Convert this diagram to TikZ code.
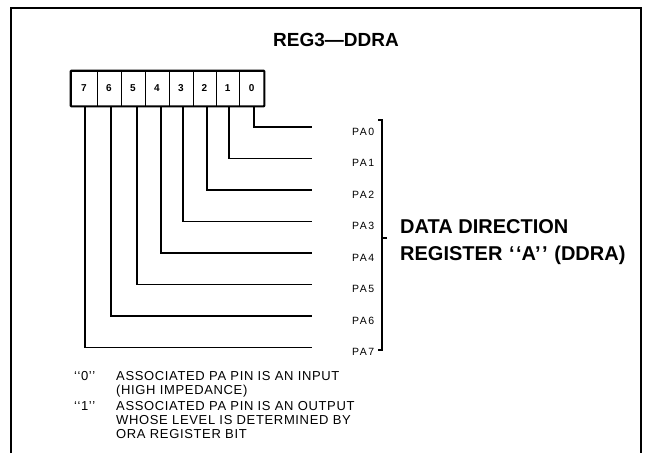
\documentclass[tikz,border=0pt]{standalone}
\usepackage{fontspec}
\setmainfont{Liberation Sans}
\begin{document}
\begin{tikzpicture}[x=1pt,y=-1pt,
  cell/.style={draw,line width=0.9pt,minimum height=35pt,inner sep=0pt,font=\fontsize{10}{10}\selectfont\bfseries},
  wire/.style={line width=1.1pt},
  palbl/.style={anchor=base west,inner sep=0pt,font=\fontsize{10.5}{10.5}\selectfont\addfontfeatures{LetterSpace=14}},
  big/.style={anchor=base west,inner sep=0pt,font=\fontsize{20}{20}\selectfont\bfseries},
  note/.style={anchor=base west,inner sep=0pt,font=\fontsize{13}{13}\selectfont\addfontfeatures{LetterSpace=5}}]
\useasboundingbox (0,0) rectangle (655,453);
% frame
\draw[line width=1.4pt] (11,453) -- (11,8) -- (641,8) -- (641,453);
% title
\node[anchor=base,inner sep=0pt,font=\fontsize{19}{19}\selectfont\bfseries] (title) at (336,46) {REG3—DDRA};
% register cells: bit / left / right / wire x
\foreach \k/\l/\r/\wx in {7/71/97/85, 6/97/121/111, 5/121/145/137, 4/145/169/161, 3/169/193/183, 2/193/216/207, 1/216/239.5/229, 0/239.5/264/254} {
  \node[cell,minimum width={(\r-\l)*1pt}] (b\k) at ({(\l+\r)/2},88.5) {\k};
  \pgfmathsetmacro\yy{127+31.5*\k}
  \coordinate (s\k) at (\wx,106);
  \coordinate (e\k) at (312,\yy);
  \draw[wire] (s\k) |- (e\k);
  \node[palbl] (pa\k) at (352,\yy+8) {PA\k};
}
\draw[line width=2pt,rounded corners=1pt] (b7.north west) rectangle (b0.south east);
% bracket
\coordinate (bt) at (382,120);
\coordinate (bb) at (382,350);
\coordinate (bm) at (382,238);
\draw[line width=1.1pt] ([xshift=-4pt]bt) -- (bt) -- (bb) -- ([xshift=-4pt]bb);
\draw[line width=1.1pt] (bm) -- ([xshift=5pt]bm);
\node[big] (dd1) at (400,233) {DATA DIRECTION};
\node[big] (dd2) at (400,260) {REGISTER\,\,`\kern1.5pt`A'\kern1.5pt'\,\,(DDRA)};
% notes
\node[note] (q0) at (74,380) {`\kern0.5pt`0'\kern0.5pt'};
\node[note] (t0a) at (116,380) {ASSOCIATED PA PIN IS AN INPUT};
\node[note] (t0b) at (116,394) {(HIGH IMPEDANCE)};
\node[note] (q1) at (74,410) {`\kern0.5pt`1'\kern0.5pt'};
\node[note] (t1a) at (116,410) {ASSOCIATED PA PIN IS AN OUTPUT};
\node[note] (t1b) at (116,424) {WHOSE LEVEL IS DETERMINED BY};
\node[note] (t1c) at (116,438) {ORA REGISTER BIT};
\end{tikzpicture}
\end{document}
